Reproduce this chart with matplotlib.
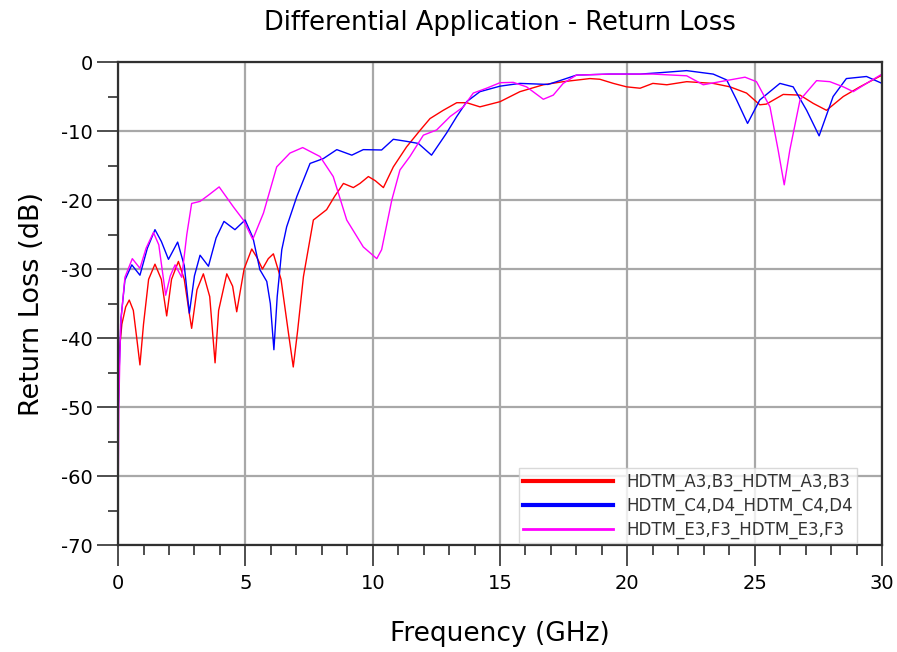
import numpy as np
import matplotlib
matplotlib.use("Agg")
from matplotlib import pyplot as plt

plt.rcParams['font.family'] = ['DejaVu Sans']
plt.rcParams['axes.unicode_minus'] = False

# frequency (GHz) / return loss (dB)
freqA = [0.0, 0.05, 0.15, 0.3, 0.44, 0.6, 0.75, 0.86, 1.0, 1.2, 1.45, 1.7, 1.91, 2.1, 2.37, 2.6, 2.78, 2.89,
         3.1, 3.35, 3.6, 3.72, 3.81, 3.95, 4.27, 4.5, 4.66, 4.95, 5.25, 5.45, 5.67, 5.9, 6.1, 6.4, 6.7, 6.88,
         7.05, 7.28, 7.67, 8.19, 8.5, 8.85, 9.24, 9.5, 9.83, 10.1, 10.42, 10.81, 11.33, 11.86, 12.25, 12.77,
         13.3, 13.69, 14.21, 15.0, 15.78, 16.7, 17.48, 18.53, 18.92, 19.45, 19.97, 20.5, 21.0, 21.55, 22.33,
         23.37, 24.03, 24.68, 25.2, 25.46, 26.12, 26.78, 27.3, 27.82, 28.48, 29.13, 30.0]
rlA = [-47, -42, -38, -35.5, -34.5, -36, -40.5, -43.9, -38, -31.5, -29.3, -31.5, -36.8, -31.5, -28.9, -31.5,
       -36, -38.6, -33, -30.7, -34, -39.5, -43.6, -36, -30.7, -32.5, -36.2, -30, -27.1, -28.3, -30.0, -28.5,
       -27.8, -31.5, -39.5, -44.2, -39, -31.1, -22.9, -21.4, -19.5, -17.6, -18.2, -17.6, -16.6, -17.2, -18.2,
       -15.2, -12.3, -9.9, -8.2, -7.0, -5.9, -5.9, -6.5, -5.75, -4.3, -3.3, -2.85, -2.4, -2.5, -3.1, -3.6,
       -3.8, -3.1, -3.3, -2.85, -3.1, -3.6, -4.5, -6.2, -6.1, -4.7, -4.8, -6.0, -7.0, -5.0, -3.6, -1.9]

freqB = [0.0, 0.05, 0.12, 0.27, 0.54, 0.86, 1.15, 1.45, 1.7, 1.98, 2.34, 2.6, 2.8, 3.0, 3.22, 3.55, 3.85,
         4.16, 4.59, 4.99, 5.3, 5.57, 5.84, 5.98, 6.12, 6.25, 6.43, 6.62, 7.02, 7.54, 8.06, 8.59, 9.18, 9.63,
         10.35, 10.81, 11.33, 11.79, 12.31, 12.9, 13.3, 13.69, 14.21, 15.0, 15.78, 16.88, 17.35, 18.0, 19.3,
         20.5, 21.28, 22.33, 23.37, 23.9, 24.29, 24.72, 25.2, 25.99, 26.51, 27.04, 27.53, 28.08, 28.6, 29.39,
         30.0]
rlB = [-52, -44, -37, -31.6, -29.4, -30.9, -27, -24.3, -26, -28.6, -26.1, -29.5, -36.4, -31, -28.0, -29.6,
       -25.5, -23.1, -24.3, -22.9, -25.5, -30.1, -31.8, -35, -41.7, -34, -27.2, -23.9, -19.5, -14.7, -14.0,
       -12.7, -13.5, -12.7, -12.75, -11.2, -11.5, -11.8, -13.5, -10.3, -7.9, -5.75, -4.3, -3.5, -3.1, -3.25,
       -2.7, -1.9, -1.75, -1.75, -1.55, -1.25, -1.75, -2.6, -5.5, -8.9, -5.5, -3.1, -3.6, -7.0, -10.7, -5.0,
       -2.4, -2.1, -3.1]

freqC = [0.0, 0.03, 0.1, 0.27, 0.56, 0.86, 1.1, 1.39, 1.6, 1.87, 2.05, 2.24, 2.5, 2.7, 2.89, 3.22, 3.55,
         3.97, 4.53, 4.92, 5.29, 5.71, 6.23, 6.75, 7.25, 7.93, 8.45, 8.98, 9.63, 10.16, 10.35, 10.75, 11.07,
         11.46, 11.99, 12.51, 13.04, 13.56, 13.95, 14.47, 15.0, 15.52, 16.04, 16.7, 17.09, 17.48, 18.0, 19.3,
         21.0, 22.33, 22.98, 23.64, 24.62, 25.07, 25.6, 25.92, 26.16, 26.38, 26.78, 27.43, 27.95, 28.48,
         28.87, 29.39, 30.0]
rlC = [-65, -50, -38, -31.2, -28.5, -29.9, -27, -24.7, -26.5, -33.8, -31, -29.4, -31.2, -25, -20.5, -20.2,
       -19.3, -18.1, -21.0, -22.9, -25.7, -21.9, -15.2, -13.2, -12.4, -13.7, -16.6, -22.9, -26.8, -28.5,
       -27.2, -20, -15.65, -13.7, -10.6, -9.85, -7.9, -6.5, -4.5, -3.8, -3.0, -2.95, -3.6, -5.4, -4.8, -3.1,
       -1.9, -1.75, -1.75, -2.0, -3.3, -2.85, -2.2, -2.85, -6.5, -12.75, -17.8, -12.75, -5.5, -2.7, -2.85,
       -3.6, -4.3, -3.1, -1.75]

labels = ['HDTM_A3,B3_HDTM_A3,B3', 'HDTM_C4,D4_HDTM_C4,D4', 'HDTM_E3,F3_HDTM_E3,F3']
colors = ['#ff0000', '#0000ff', '#ff00ff']

fig = plt.figure(figsize=(8.97, 6.52), dpi=100)
ax = fig.add_axes([0.1316, 0.1641, 0.8517, 0.7408])

ax.plot(freqA, rlA, color=colors[0], lw=1.0, label=labels[0])
ax.plot(freqB, rlB, color=colors[1], lw=1.0, label=labels[1])
ax.plot(freqC, rlC, color=colors[2], lw=1.0, label=labels[2])

ax.set_xlim(0, 30)
ax.set_ylim(-70, 0)
ax.set_xticks(np.arange(0, 31, 5))
ax.set_xticks(np.arange(0, 31, 1), minor=True)
ax.set_yticks(np.arange(-70, 1, 10))
ax.set_yticks(np.arange(-70, 1, 5), minor=True)
ax.grid(True, which='major', color='#a8a8a8', lw=1.6)
ax.set_axisbelow(True)
ax.tick_params(which='major', direction='out', length=15, width=1.3, color='#404040',
               labelsize=14, pad=3)
ax.tick_params(axis='x', which='major', pad=6)
ax.tick_params(which='minor', direction='out', length=7, width=1.3, color='#404040')
for s in ax.spines.values():
    s.set_color('#303030')
    s.set_linewidth(1.6)

ax.set_title('Differential Application - Return Loss', fontsize=18.5, pad=23)
ax.set_xlabel('Frequency (GHz)', fontsize=19, labelpad=20)
ax.set_ylabel('Return Loss (dB)', fontsize=19.5, labelpad=12)

leg = ax.legend(loc='lower right', bbox_to_anchor=(0.967, 0.004), fontsize=12, frameon=True,
                fancybox=False, edgecolor='#d0d0d0', handlelength=5.4, borderpad=0.25,
                labelspacing=0.35, handletextpad=0.8, borderaxespad=0)
for t in leg.get_texts():
    t.set_color('#333333')
lw = [3, 3, 2]
for h, w in zip(leg.get_lines(), lw):
    h.set_linewidth(w)

plt.savefig('out.png', dpi=100)
